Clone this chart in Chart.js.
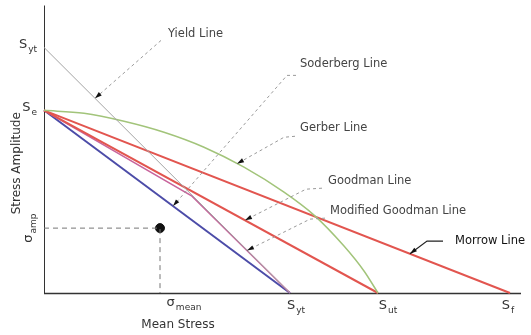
<!DOCTYPE html>
<html>
<head>
<meta charset="utf-8">
<script src="https://cdn.jsdelivr.net/npm/chart.js@4/dist/chart.umd.min.js"></script>
<style>
  html, body { margin: 0; padding: 0; background: #fff; }
  #wrap { width: 531px; height: 335px; }
</style>
</head>
<body>
<div id="wrap"><canvas id="c" width="531" height="335"></canvas></div>
<script>
// Characteristic strengths (stress units)
const S_YT = 246;   // yield strength
const S_UT = 334;   // ultimate strength
const S_F  = 466;   // true fracture strength
const S_E  = 183;   // endurance limit

// Failure criteria lines (mean stress x, amplitude y)
const yieldX = [0, S_YT];
const yieldY = [S_YT, 0];
const soderbergX = [0, S_YT];
const soderbergY = [S_E, 0];
const goodmanX = [0, S_UT];
const goodmanY = [S_E, 0];
const modGoodmanX = [0, 148, S_YT];
const modGoodmanY = [S_E, 97, 0];
const morrowX = [0, S_F];
const morrowY = [S_E, 0];
const gerberX = [0, 40, 80, 120, 160, 200, 240, 270, 300, 320, S_UT];
const gerberY = [S_E, 180, 172, 161, 146, 126, 101, 78, 47, 22, 0];

// Operating point
const pointX = [116];
const pointY = [65];

// Axis tick labels: base symbol + subscript
const xTickValues = [116, S_YT, S_UT, S_F];
const xTickBase = ['σ', 'S', 'S', 'S'];
const xTickSub = ['mean', 'yt', 'ut', 'f'];
const yTickValues = [S_E, S_YT];
const yTickBase = ['S', 'S'];
const yTickSub = ['e', 'yt'];
const ampTickValue = 65;

// Callout labels
const calloutNames = ['Yield Line', 'Soderberg Line', 'Gerber Line', 'Goodman Line', 'Modified Goodman Line', 'Morrow Line'];

const xMax = 481, yMax = 288;
const FONT = '"DejaVu Sans", sans-serif';

function pts(xs, ys) { return xs.map((x, i) => ({ x, y: ys[i] })); }
function yOn(xs, ys, x) {
  for (let i = 0; i < xs.length - 1; i++) {
    if (x >= xs[i] && x <= xs[i + 1]) {
      const t = (x - xs[i]) / (xs[i + 1] - xs[i]);
      return ys[i] + t * (ys[i + 1] - ys[i]);
    }
  }
  return ys[ys.length - 1];
}

// callout geometry: text anchor, leader bend points (data units), arrow target on a curve
const callouts = [
  { text: calloutNames[0], tx: 124, ty: 259, path: [[117, 253]], on: [yieldX, yieldY], at: 51, dash: true, color: '#444' },
  { text: calloutNames[1], tx: 256, ty: 229, path: [[252, 218], [243, 218]], on: [soderbergX, soderbergY], at: 129, dash: true, color: '#444' },
  { text: calloutNames[2], tx: 256, ty: 165, path: [[251, 157], [240, 156]], on: [gerberX, gerberY], at: 193, dash: true, color: '#444' },
  { text: calloutNames[3], tx: 284, ty: 112, path: [[278, 105], [262, 104]], on: [goodmanX, goodmanY], at: 201, dash: true, color: '#444' },
  { text: calloutNames[4], tx: 286, ty: 82, path: [[281, 75], [266, 74]], on: [modGoodmanX, modGoodmanY], at: 203, dash: true, color: '#444' },
  { text: calloutNames[5], tx: 411, ty: 52, path: [[399, 52], [383, 52]], on: [morrowX, morrowY], at: 366, dash: false, color: '#111' }
];

// horizontal nudges for the x-axis symbols (pixels)
const xLabelNudge = [24, 6, 10, -2];

function drawSubLabel(ctx, x, y, base, sub, align) {
  ctx.font = '13px ' + FONT;
  const wb = ctx.measureText(base).width;
  ctx.font = '9px ' + FONT;
  const ws = ctx.measureText(sub).width;
  let left = x;
  if (align === 'center') left = x - (wb + ws + 1) / 2;
  else if (align === 'right') left = x - (wb + ws + 1);
  ctx.textAlign = 'left';
  ctx.textBaseline = 'middle';
  ctx.font = '13px ' + FONT;
  ctx.fillText(base, left, y);
  ctx.font = '9px ' + FONT;
  ctx.fillText(sub, left + wb + 1, y + 5);
}

const decor = {
  id: 'decor',
  beforeDatasetsDraw(chart) {
    const { ctx, chartArea: a } = chart;
    ctx.save();
    ctx.strokeStyle = '#333';
    ctx.lineWidth = 1;
    ctx.beginPath();
    ctx.moveTo(a.left + 0.5, a.top);
    ctx.lineTo(a.left + 0.5, a.bottom);
    ctx.stroke();
    ctx.lineWidth = 1.5;
    ctx.beginPath();
    ctx.moveTo(a.left, a.bottom + 0.5);
    ctx.lineTo(a.right - 4, a.bottom + 0.5);
    ctx.stroke();
    ctx.restore();
  },
  afterDatasetsDraw(chart) {
    const { ctx, chartArea: a, scales: { x, y } } = chart;
    ctx.save();
    ctx.fillStyle = '#333';
    // x tick labels
    xTickValues.forEach((v, i) => {
      const px = x.getPixelForValue(v);
      const py = a.bottom + (i === 0 ? 10 : 13);
      drawSubLabel(ctx, px + xLabelNudge[i], py, xTickBase[i], xTickSub[i], 'center');
    });
    // y tick labels
    yTickValues.forEach((v, i) => {
      const py = y.getPixelForValue(v);
      drawSubLabel(ctx, a.left - 7, py - 3, yTickBase[i], yTickSub[i], 'right');
    });
    // rotated amplitude label
    {
      const py = y.getPixelForValue(ampTickValue);
      ctx.save();
      ctx.translate(29, py);
      ctx.rotate(-Math.PI / 2);
      drawSubLabel(ctx, 0, 0, 'σ', 'amp', 'center');
      ctx.restore();
    }
    // axis titles
    ctx.font = '12px ' + FONT;
    ctx.fillStyle = '#333';
    ctx.textAlign = 'center';
    ctx.textBaseline = 'middle';
    ctx.fillText('Mean Stress', x.getPixelForValue(134), 325);
    ctx.save();
    ctx.translate(17, y.getPixelForValue(130));
    ctx.rotate(-Math.PI / 2);
    ctx.fillText('Stress Amplitude', 0, 0);
    ctx.restore();

    // callouts
    callouts.forEach(c => {
      const tipX = x.getPixelForValue(c.at);
      const tipY = y.getPixelForValue(yOn(c.on[0], c.on[1], c.at));
      const path = c.path.map(p => [x.getPixelForValue(p[0]), y.getPixelForValue(p[1])]);
      ctx.strokeStyle = c.dash ? '#9a9a9a' : '#222';
      ctx.lineWidth = c.dash ? 1 : 1.2;
      ctx.setLineDash(c.dash ? [3, 3] : []);
      ctx.beginPath();
      ctx.moveTo(path[0][0], path[0][1]);
      for (let k = 1; k < path.length; k++) ctx.lineTo(path[k][0], path[k][1]);
      ctx.lineTo(tipX, tipY);
      ctx.stroke();
      ctx.setLineDash([]);
      // arrow head
      const last = path[path.length - 1];
      const ang = Math.atan2(tipY - last[1], tipX - last[0]);
      ctx.fillStyle = '#111';
      ctx.beginPath();
      ctx.moveTo(tipX, tipY);
      ctx.lineTo(tipX - 7 * Math.cos(ang) + 2.2 * Math.sin(ang), tipY - 7 * Math.sin(ang) - 2.2 * Math.cos(ang));
      ctx.lineTo(tipX - 7 * Math.cos(ang) - 2.2 * Math.sin(ang), tipY - 7 * Math.sin(ang) + 2.2 * Math.cos(ang));
      ctx.closePath();
      ctx.fill();
      // text
      ctx.font = '11.5px ' + FONT;
      ctx.fillStyle = c.color;
      ctx.textAlign = 'left';
      ctx.textBaseline = 'middle';
      ctx.fillText(c.text, x.getPixelForValue(c.tx), y.getPixelForValue(c.ty));
    });
    ctx.restore();
  }
};

const lineDs = (label, xs, ys, color, width, extra) => Object.assign({
  label, data: pts(xs, ys), showLine: true, borderColor: color, backgroundColor: color,
  borderWidth: width, pointRadius: 0, fill: false, clip: false, tension: 0
}, extra || {});

new Chart(document.getElementById('c'), {
  type: 'scatter',
  data: {
    datasets: [
      lineDs('Yield Line', yieldX, yieldY, '#a3a3a3', 1),
      lineDs('Gerber Line', gerberX, gerberY, '#a2c47a', 1.5, { cubicInterpolationMode: 'monotone' }),
      lineDs('Morrow Line', morrowX, morrowY, '#e2554f', 2),
      lineDs('Goodman Line', goodmanX, goodmanY, '#e2554f', 2),
      lineDs('Modified Goodman Line', modGoodmanX, modGoodmanY, '#c8649c', 1.6),
      lineDs('Soderberg Line', soderbergX, soderbergY, '#4c4ca8', 2),
      lineDs('σ guide', [0, pointX[0], pointX[0]], [pointY[0], pointY[0], 0], '#777', 1, { borderDash: [5, 4] }),
      { label: 'Operating point', data: pts(pointX, pointY), pointRadius: 4.5, pointBackgroundColor: '#111', pointBorderColor: '#111', showLine: false }
    ]
  },
  options: {
    responsive: false,
    animation: false,
    layout: { padding: { left: 44, top: 5, right: 6, bottom: 42 } },
    plugins: { legend: { display: false }, tooltip: { enabled: false } },
    scales: {
      x: { type: 'linear', min: 0, max: xMax, display: false },
      y: { type: 'linear', min: 0, max: yMax, display: false }
    }
  },
  plugins: [decor]
});
</script>
</body>
</html>
